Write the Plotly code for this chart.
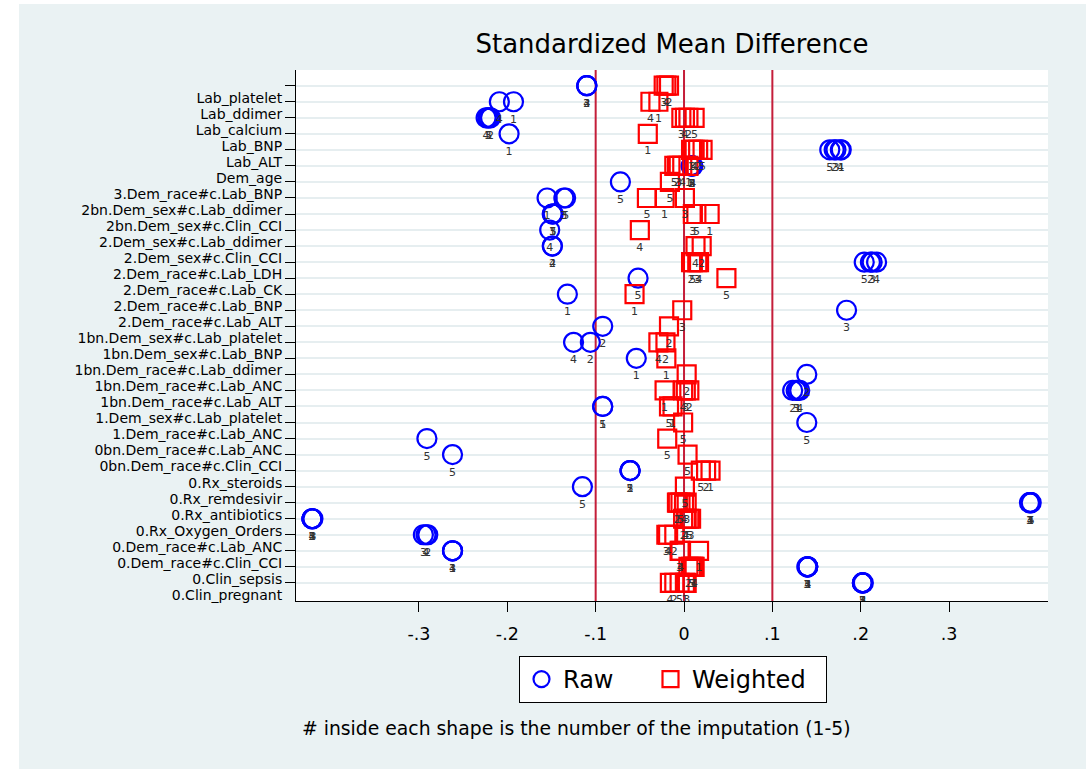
import plotly.graph_objects as go

# covariate rows, top to bottom
labels = [
    "Lab_platelet", "Lab_ddimer", "Lab_calcium", "Lab_BNP", "Lab_ALT", "Dem_age",
    "3.Dem_race#c.Lab_BNP", "2bn.Dem_sex#c.Lab_ddimer", "2bn.Dem_sex#c.Clin_CCI",
    "2.Dem_sex#c.Lab_ddimer", "2.Dem_sex#c.Clin_CCI", "2.Dem_race#c.Lab_LDH",
    "2.Dem_race#c.Lab_CK", "2.Dem_race#c.Lab_BNP", "2.Dem_race#c.Lab_ALT",
    "1bn.Dem_sex#c.Lab_platelet", "1bn.Dem_sex#c.Lab_BNP", "1bn.Dem_race#c.Lab_ddimer",
    "1bn.Dem_race#c.Lab_ANC", "1bn.Dem_race#c.Lab_ALT", "1.Dem_sex#c.Lab_platelet",
    "1.Dem_race#c.Lab_ANC", "0bn.Dem_race#c.Lab_ANC", "0bn.Dem_race#c.Clin_CCI",
    "0.Rx_steroids", "0.Rx_remdesivir", "0.Rx_antibiotics", "0.Rx_Oxygen_Orders",
    "0.Dem_race#c.Lab_ANC", "0.Dem_race#c.Clin_CCI", "0.Clin_sepsis", "0.Clin_pregnant",
]

# imputation numbers present in each row
imputations = [
    [2, 3, 4], [1, 4], [2, 3, 4, 5], [1], [1, 2, 3, 4, 5], [1, 2, 3, 4, 5],
    [5], [1, 3, 5], [1, 3, 5], [4], [2, 4], [2, 3, 4, 5],
    [5], [1], [3], [2], [2, 4], [1],
    [2], [1, 2, 3, 4], [1, 5], [5], [5], [5],
    [1, 2, 5], [5], [1, 2, 3, 4, 5], [1, 2, 3, 4, 5], [2, 3, 4], [1, 3, 4],
    [1, 2, 3, 4, 5], [1, 2, 3, 4, 5],
]

raw_smd = [
    [-0.110, -0.110, -0.110], [-0.193, -0.209], [-0.219, -0.222, -0.224, -0.221],
    [-0.198], [0.178, 0.170, 0.172, 0.177, 0.165], [0.008, 0.009, 0.009, 0.010, 0.009],
    [-0.072], [-0.155, -0.136, -0.134], [-0.149, -0.149, -0.148],
    [-0.152], [-0.149, -0.149], [0.211, 0.213, 0.218, 0.204],
    [-0.052], [-0.132], [0.184], [-0.092], [-0.106, -0.125], [-0.054],
    [0.139], [0.129, 0.123, 0.127, 0.131], [-0.092, -0.092], [0.139], [-0.291], [-0.262],
    [-0.061, -0.061, -0.061], [-0.115], [0.392, 0.392, 0.391, 0.392, 0.393],
    [-0.421, -0.421, -0.420, -0.421, -0.421], [-0.290, -0.295, -0.292],
    [-0.262, -0.262, -0.262], [0.140, 0.140, 0.139, 0.140, 0.140],
    [0.202, 0.202, 0.202, 0.203, 0.202],
]

weighted_smd = [
    [-0.017, -0.023, -0.020], [-0.029, -0.038], [0.005, -0.003, 0.001, 0.012],
    [-0.041], [0.008, 0.016, 0.010, 0.012, 0.021], [0.005, -0.008, -0.006, -0.002, -0.011],
    [-0.016], [-0.022, 0.001, -0.042], [0.029, 0.010, 0.014],
    [-0.050], [0.020, 0.013], [0.008, 0.015, 0.017, 0.010],
    [0.048], [-0.056], [-0.002], [-0.017], [-0.021, -0.029], [-0.020],
    [0.003], [-0.022, 0.006, 0.002, -0.001], [-0.013, -0.017], [-0.001], [-0.019], [0.004],
    [0.030, 0.025, 0.019], [0.001], [-0.007, -0.008, 0.003, 0.000, -0.004],
    [0.003, -0.001, 0.008, 0.002, 0.006], [-0.011, -0.020, -0.018],
    [0.017, -0.005, -0.004], [0.011, 0.005, 0.010, 0.012, 0.008],
    [0.001, -0.011, 0.003, -0.016, -0.005],
]

x_ticks = [-0.3, -0.2, -0.1, 0, 0.1, 0.2, 0.3]
x_ticktext = ["-.3", "-.2", "-.1", "0", ".1", ".2", ".3"]
ref_lines = [-0.1, 0, 0.1]

FONT = "DejaVu Sans"
BG = "#EAF2F3"
Y_RANGE = [33.13, 0.02]
NBSP = "\u00a0"


def flatten(values):
    xs, ys, txt = [], [], []
    for row, (imps, vals) in enumerate(zip(imputations, values), start=1):
        for imp, v in zip(imps, vals):
            xs.append(v)
            ys.append(row)
            txt.append(str(imp))
    return xs, ys, txt


def render():
    fig = go.Figure()

    # reference lines at -0.1, 0, 0.1 spanning the full plot height
    for x in ref_lines:
        fig.add_trace(
            go.Scatter(x=[x, x], y=Y_RANGE, mode="lines", showlegend=False,
                       hoverinfo="skip", line={"color": "#C41E3A", "width": 2})
        )

    # legend names padded so the entries spread like the original key
    series = [
        ("Raw" + NBSP * 4, raw_smd, "circle-open", "#0000FF", 19),
        ("Weighted" + NBSP * 2, weighted_smd, "square-open", "#FF0000", 18),
    ]
    for name, values, symbol, color, size in series:
        xs, ys, txt = flatten(values)
        fig.add_trace(
            go.Scatter(
                x=xs,
                y=ys,
                mode="markers+text",
                name=name,
                text=txt,
                textposition="bottom center",
                textfont={"family": FONT, "size": 11, "color": "#333333"},
                marker={"symbol": symbol, "size": size, "color": color,
                        "line": {"width": 2.2, "color": color}},
            )
        )

    # white strips along the top and left edge of the page
    fig.add_shape(type="rect", xref="paper", yref="paper",
                  x0=-0.40, x1=(19 - 296) / 752, y0=-0.35, y1=1.15,
                  fillcolor="white", line={"width": 0})
    fig.add_shape(type="rect", xref="paper", yref="paper",
                  x0=-0.40, x1=1.10, y0=(601 - 4) / 531, y1=1.15,
                  fillcolor="white", line={"width": 0})

    fig.add_annotation(
        text="# inside each shape is the number of the imputation (1-5)",
        xref="paper", yref="paper", x=(300 - 296) / 752, y=(601 - 728) / 531,
        xanchor="left", yanchor="middle", showarrow=False,
        font={"family": FONT, "size": 18.8, "color": "black"},
    )

    fig.update_layout(
        width=1086,
        height=769,
        margin={"l": 296, "r": 38, "t": 70, "b": 168},
        paper_bgcolor=BG,
        plot_bgcolor="white",
        font={"family": FONT, "color": "black"},
        title={"text": "Standardized Mean Difference", "x": 672 / 1086, "xanchor": "center",
               "y": 1 - 44 / 769, "yanchor": "middle", "font": {"size": 26}},
        showlegend=True,
        legend={
            "orientation": "h", "x": (673 - 296) / 752, "xanchor": "center",
            "y": (601 - 656) / 531, "yanchor": "top",
            "bgcolor": "white", "bordercolor": "black", "borderwidth": 1,
            "font": {"size": 24}, "itemsizing": "trace", "itemwidth": 33,
        },
        xaxis={
            "range": [-0.4392, 0.412], "tickvals": x_ticks, "ticktext": x_ticktext,
            "ticks": "outside", "ticklen": 10, "tickcolor": "black",
            "showline": True, "linecolor": "black", "linewidth": 1,
            "showgrid": False, "zeroline": False, "tickfont": {"size": 17.5},
            "ticklabelstandoff": 7,
        },
        yaxis={
            "range": Y_RANGE, "tickvals": list(range(1, len(labels) + 1)),
            "ticktext": labels, "ticks": "outside", "ticklen": 10, "tickcolor": "black",
            "showline": True, "linecolor": "black", "linewidth": 1,
            "showgrid": True, "gridcolor": "#E6EEF0", "gridwidth": 2,
            "zeroline": False, "tickfont": {"size": 14}, "ticklabelshift": -12,
        },
    )
    fig.write_html(
        "out.html",
        config={"displayModeBar": False},
        post_script="document.body.style.margin = '0px';",
    )


if __name__ == "__main__":
    render()
